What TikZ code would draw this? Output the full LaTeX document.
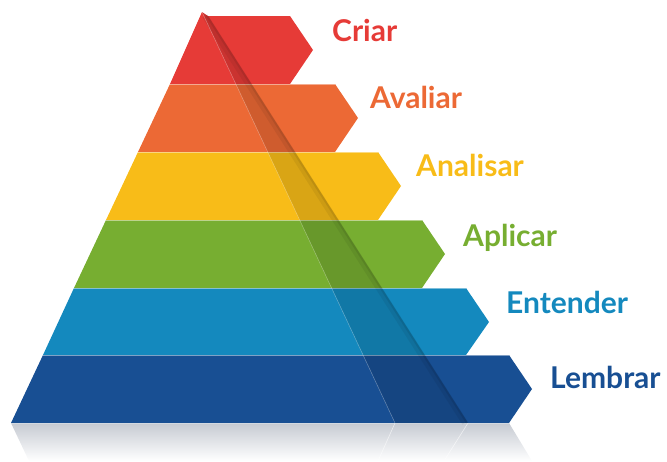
\documentclass[tikz,border=0pt]{standalone}
\usepackage{fontspec}
\setmainfont{Lato}
\usetikzlibrary{calc}

\definecolor{criar}{RGB}{230,59,55}
\definecolor{avaliar}{RGB}{236,105,53}
\definecolor{analisar}{RGB}{248,188,24}
\definecolor{aplicar}{RGB}{119,174,49}
\definecolor{entender}{RGB}{20,137,190}
\definecolor{lembrar}{RGB}{24,79,147}
\definecolor{mirror}{RGB}{198,202,210}

\tikzset{
  band/.style={fill=#1, draw=none},
  seam/.style={draw=white, draw opacity=0.45, line width=0.5pt},
  lbl/.style={text=#1, anchor=base west, inner sep=0pt, font=\bfseries\fontsize{30}{30}\selectfont},
}

\begin{document}
\begin{tikzpicture}[x=1pt, y=-1pt]
	\useasboundingbox (0, 0) rectangle (667, 461);

	% reflection under the pyramid
	\shade[top color=mirror, bottom color=white] (11, 423) -- (29, 461) -- (532, 461) -- (509, 423) -- cycle;
	\draw[white, opacity=0.6, line width=0.6pt] (395, 423) -- (378, 461);
	\draw[white, opacity=0.6, line width=0.6pt] (468, 423) -- (444, 461);

	% layers, bottom to top
	\fill[band=lembrar] (43, 355) -- (509, 355) -- (532, 389) -- (509, 423) -- (11, 423) -- cycle;
	\fill[band=entender] (74, 288) -- (466, 288) -- (489, 322) -- (466, 355) -- (43, 355) -- cycle;
	\fill[band=aplicar] (106, 220) -- (422, 220) -- (445, 254) -- (422, 288) -- (74, 288) -- cycle;
	\fill[band=analisar] (138, 152) -- (378, 152) -- (401, 186) -- (378, 220) -- (106, 220) -- cycle;
	\fill[band=avaliar] (170, 84) -- (335, 84) -- (358, 118) -- (335, 152) -- (138, 152) -- cycle;
	\fill[band=criar] (202, 12) -- (208, 16) -- (290, 16) -- (313, 50) -- (290, 84) -- (170, 84) -- cycle;

	% seams between layers
	\draw[seam] (170, 84) -- (335, 84);
	\draw[seam] (138, 152) -- (378, 152);
	\draw[seam] (106, 220) -- (422, 220);
	\draw[seam] (74, 288) -- (466, 288);
	\draw[seam] (43, 355) -- (509, 355);
	\draw[seam] (11, 423) -- (509, 423);

	% darker side face of the pyramid
	\coordinate (apex) at (202, 12);
	\coordinate (top) at (208, 16);
	\coordinate (foot) at (395, 423);
	\coordinate (edge) at (468, 423);
	\fill[black, opacity=0.12] (apex) -- (foot) -- (edge) -- (top) -- cycle;
	\draw[black, opacity=0.06, line width=6pt] ($(top)+(-3,0)$) -- ($(edge)+(-3,0)$);
	\draw[black, opacity=0.08, line width=2pt] ($(top)+(-1,0)$) -- ($(edge)+(-1,0)$);
	\draw[white, opacity=0.35, line width=0.5pt] (apex) -- (foot);

	% labels
	\node[lbl=criar] (tcriar) at (332, 41) {Criar};
	\node[lbl=avaliar] (tavaliar) at (370, 108) {Avaliar};
	\node[lbl=analisar] (tanalisar) at (416, 176) {Analisar};
	\node[lbl=aplicar] (taplicar) at (463, 246) {Aplicar};
	\node[lbl=entender] (tentender) at (506, 313) {Entender};
	\node[lbl=lembrar] (tlembrar) at (550, 388) {Lembrar};

\end{tikzpicture}
\end{document}
